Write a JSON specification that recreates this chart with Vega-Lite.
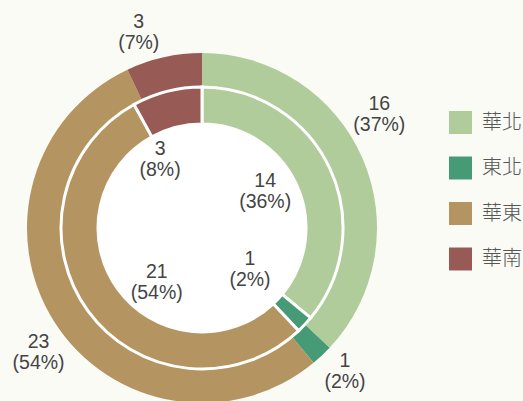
{
  "$schema": "https://vega.github.io/schema/vega-lite/v6.json",
  "width": 350, "height": 350,
  "autosize": {"type": "none"},
  "padding": {"left": 27, "top": 53, "right": 146, "bottom": 0},
  "background": "#fbfbf6",
  "datasets": {
    "outer": [
      {"region": "華北", "pct": 37, "rank": 1, "label": "16\n(37%)"},
      {"region": "東北", "pct": 2, "rank": 2, "label": "1\n(2%)"},
      {"region": "華東", "pct": 54, "rank": 3, "label": "23\n(54%)"},
      {"region": "華南", "pct": 7, "rank": 4, "label": "3\n(7%)"}
    ],
    "inner": [
      {"region": "華北", "pct": 36, "rank": 1, "label": "14\n(36%)"},
      {"region": "東北", "pct": 2, "rank": 2, "label": "1\n(2%)"},
      {"region": "華東", "pct": 54, "rank": 3, "label": "21\n(54%)"},
      {"region": "華南", "pct": 8, "rank": 4, "label": "3\n(8%)"}
    ],
    "disc": [{"pct": 100}]
  },
  "layer": [
    {
      "data": {"name": "outer"},
      "mark": {"type": "arc", "radius": 175, "radius2": 141.5},
      "encoding": {
        "theta": {"field": "pct", "type": "quantitative", "stack": true},
        "order": {"field": "rank", "type": "quantitative"},
        "color": {
          "field": "region", "type": "nominal",
          "scale": {"domain": ["華北", "東北", "華東", "華南"], "range": ["#b0cc9b", "#469a76", "#b49460", "#985a55"]},
          "sort": null,
          "legend": {
            "title": null, "orient": "none", "legendX": 422, "legendY": 58,
            "symbolType": "square", "symbolSize": 529, "symbolStrokeWidth": 0, "symbolOpacity": 1,
            "labelFont": "Noto Sans CJK TC", "labelFontSize": 20, "labelFontWeight": 300, "labelColor": "#555555", "labelOffset": 10,
            "rowPadding": 22.5, "labelLimit": 60
          }
        }
      }
    },
    {
      "data": {"name": "disc"},
      "mark": {"type": "arc", "radius": 141.5, "radius2": 0, "color": "#ffffff"},
      "encoding": {"theta": {"field": "pct", "type": "quantitative", "stack": true}}
    },
    {
      "data": {"name": "inner"},
      "mark": {"type": "arc", "radius": 141, "radius2": 104, "stroke": "#ffffff", "strokeWidth": 3},
      "encoding": {
        "theta": {"field": "pct", "type": "quantitative", "stack": true},
        "order": {"field": "rank", "type": "quantitative"},
        "color": {"field": "region", "type": "nominal", "legend": null}
      }
    },
    {
      "data": {"name": "outer"},
      "mark": {
        "type": "text", "radius": 203, "lineBreak": "\n", "lineHeight": 21,
        "font": "Liberation Sans", "fontSize": 19.5, "color": "#444444", "baseline": "middle",
        "xOffset": {"expr": "{'華北':-9,'東北':4,'華東':8,'華南':-19}[datum.region]"},
        "yOffset": {"expr": "{'華北':-43,'東北':-15,'華東':5,'華南':-8}[datum.region]"}
      },
      "encoding": {
        "theta": {"field": "pct", "type": "quantitative", "stack": true},
        "order": {"field": "rank", "type": "quantitative"},
        "text": {"field": "label", "type": "nominal"}
      }
    },
    {
      "data": {"name": "inner"},
      "mark": {
        "type": "text", "radius": 72, "lineBreak": "\n", "lineHeight": 21,
        "font": "Liberation Sans", "fontSize": 19.5, "color": "#444444", "baseline": "middle",
        "xOffset": {"expr": "{'華北':-2,'東北':-4.5,'華東':13,'華南':-24}[datum.region]"},
        "yOffset": {"expr": "{'華北':-16,'東北':-18,'華東':2,'華南':-9}[datum.region]"}
      },
      "encoding": {
        "theta": {"field": "pct", "type": "quantitative", "stack": true},
        "order": {"field": "rank", "type": "quantitative"},
        "text": {"field": "label", "type": "nominal"}
      }
    }
  ],
  "resolve": {"scale": {"theta": "independent"}},
  "config": {"view": {"stroke": null}, "style": {"cell": {"stroke": null}}}
}
